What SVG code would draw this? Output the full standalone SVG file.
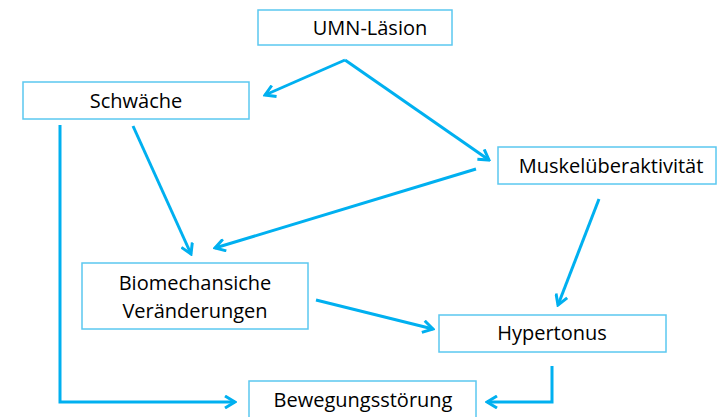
<svg xmlns="http://www.w3.org/2000/svg" width="718" height="417" viewBox="0 0 718 417">
<defs>
<style>
.box{fill:#fff;stroke:#5BC8F0;stroke-width:1.5}
.lbl{font-family:"Open Sans","Liberation Sans",sans-serif;font-size:20px;fill:#000;text-anchor:middle}
.con{fill:none;stroke:#00B0F0;stroke-width:3;stroke-linejoin:miter}
</style>
<marker id="ah" viewBox="0 0 14 14" refX="12" refY="7" markerWidth="14" markerHeight="14" markerUnits="userSpaceOnUse" orient="auto">
<path d="M2,1 L12,7 L2,13" fill="none" stroke="#00B0F0" stroke-width="3"/>
</marker>
</defs>
<rect width="718" height="417" fill="#fff"/>
<g id="connectors">
<path class="con" d="M345,60 L265,95" marker-end="url(#ah)"/>
<path class="con" d="M345,60 L489,160" marker-end="url(#ah)"/>
<path class="con" d="M60,125 L60,402 L235,402" marker-end="url(#ah)"/>
<path class="con" d="M133,126 L191,254" marker-end="url(#ah)"/>
<path class="con" d="M476,169 L215,248" marker-end="url(#ah)"/>
<path class="con" d="M316,300 L433,329" marker-end="url(#ah)"/>
<path class="con" d="M599,199 L558,305" marker-end="url(#ah)"/>
<path class="con" d="M552,366 L552,402 L487,402" marker-end="url(#ah)"/>
</g>
<g id="umn">
<rect class="box" x="258" y="10" width="194" height="35"/>
<text class="lbl" x="370" y="35">UMN-Läsion</text>
</g>
<g id="schwaeche">
<rect class="box" x="23" y="82" width="226" height="37"/>
<text class="lbl" x="136" y="108">Schwäche</text>
</g>
<g id="muskel">
<rect class="box" x="498" y="147" width="218" height="37"/>
<text class="lbl" x="611" y="173">Muskelüberaktivität</text>
</g>
<g id="biomech">
<rect class="box" x="82" y="263" width="226" height="66"/>
<text class="lbl" x="195" y="290">Biomechansiche</text>
<text class="lbl" x="195" y="318">Veränderungen</text>
</g>
<g id="hypertonus">
<rect class="box" x="439" y="315" width="227" height="37"/>
<text class="lbl" x="552" y="340">Hypertonus</text>
</g>
<g id="bewegung">
<rect class="box" x="249" y="381" width="227" height="40"/>
<text class="lbl" x="363" y="407">Bewegungsstörung</text>
</g>
</svg>
